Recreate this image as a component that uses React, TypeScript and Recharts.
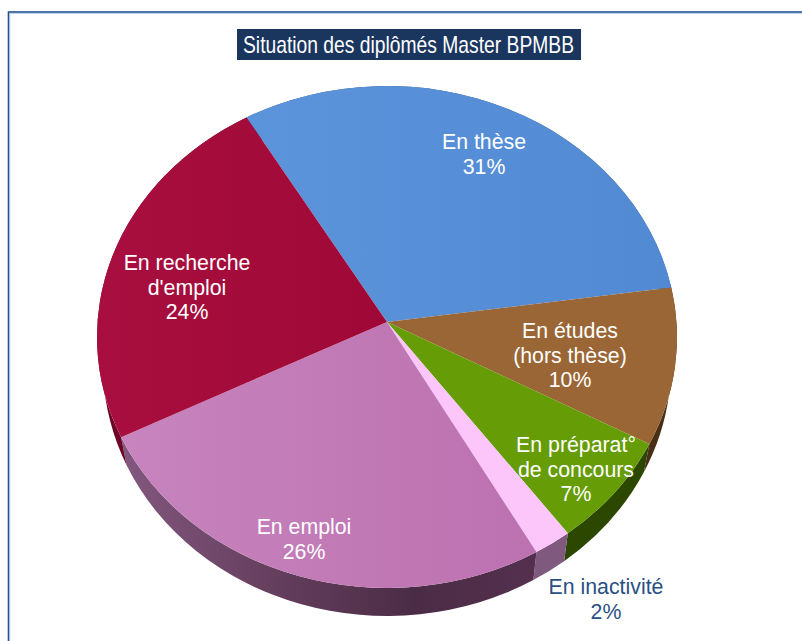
import React from 'react';
import { PieChart, Pie } from 'recharts';

const categories = ['En thèse', 'En études', 'En préparat°', 'En inactivité', 'En emploi', 'En recherche'];
const values = [31, 10, 7, 2, 26, 24];
const faceColors = ['url(#faceThese)', '#9b6635', '#669c06', '#fcc6fa', 'url(#faceEmploi)', 'url(#faceRecherche)'];
const wallColors = ['#3a5c88', '#4a2f17', '#2c4700', '#80597f', 'url(#wallEmploi)', '#6e0727'];
const labelLines = [
  ['En thèse', '31%'],
  ['En études', '(hors thèse)', '10%'],
  ['En préparat°', 'de concours', '7%'],
  ['En inactivité', '2%'],
  ['En emploi', '26%'],
  ['En recherche', "d'emploi", '24%'],
];
const labelAnchors = [
  [484, 149],
  [570, 338],
  [576, 452],
  [606, 594],
  [304, 534],
  [187, 270],
];

const faceData = categories.map((name, i) => ({ name, value: values[i], fill: faceColors[i] }));
const wallData = categories.map((name, i) => ({ name, value: values[i], fill: wallColors[i] }));

// top face is an ellipse, and the apex sits above its centre (perspective)
const CX = 387;
const CY = 337;
const RX = 290;
const RY = 251;
const APEX_Y = 322;
const WALL_RX = 284;
const WALL_CY = 365;

const warp = (deg: number) => deg + 3 * Math.cos(((deg - 10) * Math.PI) / 180);

const pt = (deg: number, rx: number, cy: number) => {
  const r = (warp(deg) * Math.PI) / 180;
  return [CX + rx * Math.cos(r), cy - RY * Math.sin(r)];
};

const FaceShape = (props: any) => {
  const { startAngle, endAngle, fill } = props;
  const a = pt(startAngle, RX, CY);
  const b = pt(endAngle, RX, CY);
  const large = startAngle - endAngle > 180 ? 1 : 0;
  return (
    <path
      d={`M${CX},${APEX_Y} L${a[0]},${a[1]} A${RX},${RY} 0 ${large} 1 ${b[0]},${b[1]} Z`}
      fill={fill}
      stroke="none"
    />
  );
};

const WallShape = (props: any) => {
  const { startAngle, endAngle, fill } = props;
  const a = pt(startAngle, RX, CY);
  const b = pt(endAngle, RX, CY);
  const c = pt(endAngle, WALL_RX, WALL_CY);
  const d = pt(startAngle, WALL_RX, WALL_CY);
  const large = startAngle - endAngle > 180 ? 1 : 0;
  return (
    <path
      d={`M${a[0]},${a[1]} A${RX},${RY} 0 ${large} 1 ${b[0]},${b[1]} L${c[0]},${c[1]} A${WALL_RX},${RY} 0 ${large} 0 ${d[0]},${d[1]} Z`}
      fill={fill}
      stroke="none"
    />
  );
};

const renderLabel = (props: any) => {
  const i = props.index;
  const [x, y] = labelAnchors[i];
  return (
    <text
      key={i}
      x={x}
      y={y}
      textAnchor="middle"
      fontFamily="Liberation Sans"
      fontSize={21.3}
      fill={i === 3 ? '#2a5082' : '#ffffff'}
    >
      {labelLines[i].map((line, k) => (
        <tspan key={k} x={x} y={y + k * 24.5}>
          {line}
        </tspan>
      ))}
    </text>
  );
};

export default function App() {
  return (
    <div style={{ position: 'fixed', left: 0, top: 0, width: 802, height: 641, background: '#fff', overflow: 'hidden' }}>
      <PieChart width={802} height={641} margin={{ top: 0, right: 0, bottom: 0, left: 0 }}>
        <defs>
          <linearGradient id="wallEmploi" gradientUnits="userSpaceOnUse" x1="120" y1="0" x2="540" y2="0">
            <stop offset="0%" stopColor="#83587f" />
            <stop offset="35%" stopColor="#66405f" />
            <stop offset="70%" stopColor="#4b2c46" />
            <stop offset="100%" stopColor="#54304e" />
          </linearGradient>
          <linearGradient id="faceEmploi" gradientUnits="userSpaceOnUse" x1="120" y1="0" x2="540" y2="0">
            <stop offset="0%" stopColor="#c784bd" />
            <stop offset="100%" stopColor="#bc71b0" />
          </linearGradient>
          <linearGradient id="faceRecherche" gradientUnits="userSpaceOnUse" x1="97" y1="0" x2="387" y2="0">
            <stop offset="0%" stopColor="#a80f40" />
            <stop offset="100%" stopColor="#9f0836" />
          </linearGradient>
          <linearGradient id="faceThese" gradientUnits="userSpaceOnUse" x1="250" y1="0" x2="670" y2="0">
            <stop offset="0%" stopColor="#5c94db" />
            <stop offset="100%" stopColor="#518ad3" />
          </linearGradient>
        </defs>
        <rect x={8.5} y={12} width={900} height={700} fill="none" stroke="#24508c" strokeWidth={1.6} />
        <rect x={9.8} y={13.3} width={900} height={700} fill="none" stroke="#9bbce6" strokeWidth={0.8} />
        <rect x={237} y={29} width={344} height={31} fill="#1a365f" />
        <text
          x={243}
          y={53}
          fontFamily="Liberation Sans"
          fontSize={24}
          fill="#ffffff"
          textLength={331}
          lengthAdjust="spacingAndGlyphs"
        >
          Situation des diplômés Master BPMBB
        </text>
        <Pie
          data={wallData}
          dataKey="value"
          cx={CX}
          cy={CY}
          outerRadius={RX}
          startAngle={120}
          endAngle={-240}
          shape={WallShape}
          stroke="none"
          isAnimationActive={false}
        />
        <Pie
          data={faceData}
          dataKey="value"
          cx={CX}
          cy={CY}
          outerRadius={RX}
          startAngle={120}
          endAngle={-240}
          shape={FaceShape}
          stroke="none"
          label={renderLabel}
          labelLine={false}
          isAnimationActive={false}
        />
      </PieChart>
    </div>
  );
}
